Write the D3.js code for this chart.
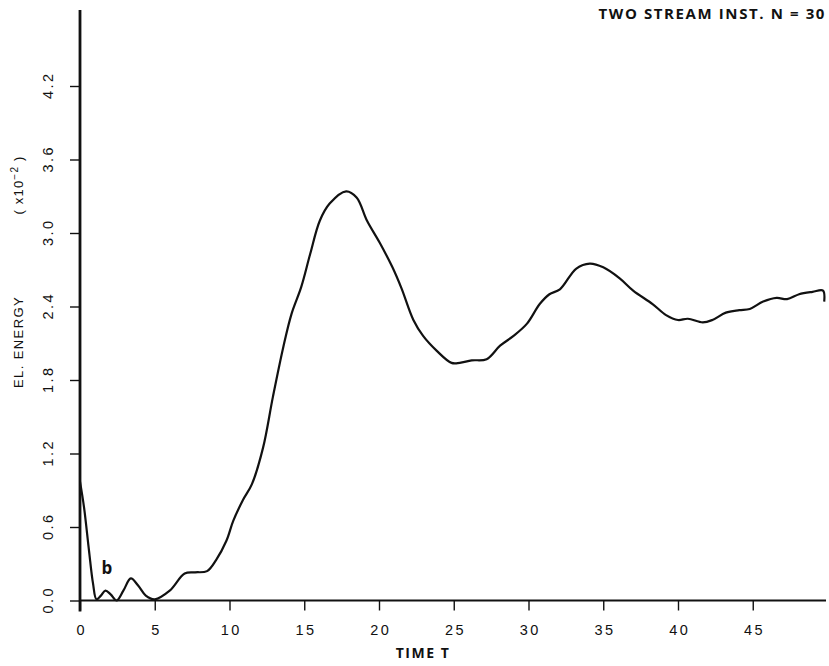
<!DOCTYPE html>
<html>
<head>
<meta charset="utf-8">
<script src="https://cdn.jsdelivr.net/npm/d3@7"></script>
<style>
  body { margin: 0; background: #fff; }
  svg { display: block; }
  text { fill: #111; }
</style>
</head>
<body>
<svg id="chart" width="829" height="666"></svg>
<script>
// time samples and electric field energy (x10^-2)
var times = [0, 0.27, 0.6, 0.87, 1.1, 1.4, 1.7, 2.05, 2.45, 2.9, 3.4, 3.9, 4.4, 5.0,
  6.0, 7.0, 7.7, 8.5, 9.1, 9.8, 10.25, 10.9, 11.5, 12.25, 12.9, 13.6, 14.15, 14.8,
  15.4, 16.04, 16.7, 17.8, 18.5, 19.2, 20.05, 20.9, 21.5, 22.3, 22.95, 23.85, 24.85,
  25.4, 26.2, 27.2, 28.1, 29.0, 29.9, 30.75, 31.4, 32.1, 33.2, 34.1, 35.0, 36.1,
  37.0, 38.3, 39.2, 40.0, 40.66, 41.66, 42.3, 43.2, 44.1, 44.8, 45.7, 46.6, 47.3,
  48.1, 49.0, 49.7, 49.78];
var energy = [0.97, 0.76, 0.41, 0.14, 0.01, 0.04, 0.08, 0.05, 0.0, 0.08, 0.18, 0.12,
  0.04, 0.01, 0.08, 0.22, 0.23, 0.24, 0.33, 0.49, 0.65, 0.82, 0.95, 1.25, 1.66,
  2.07, 2.34, 2.56, 2.83, 3.10, 3.24, 3.34, 3.29, 3.10, 2.92, 2.72, 2.55, 2.29,
  2.16, 2.04, 1.94, 1.94, 1.96, 1.97, 2.08, 2.16, 2.26, 2.42, 2.50, 2.54, 2.71,
  2.75, 2.72, 2.63, 2.53, 2.42, 2.33, 2.29, 2.30, 2.27, 2.29, 2.35, 2.37, 2.38,
  2.44, 2.47, 2.46, 2.50, 2.52, 2.53, 2.44];
var xTicks = [0, 5, 10, 15, 20, 25, 30, 35, 40, 45];
var yTicks = [0.0, 0.6, 1.2, 1.8, 2.4, 3.0, 3.6, 4.2];

var svg = d3.select('#chart');
var font = '"Liberation Sans", Arial, sans-serif';
var boldFont = '"Open Sans", sans-serif';

var x = d3.scaleLinear().domain([0, 50]).range([80, 827.5]);
var y = d3.scaleLinear().domain([0, 4.2]).range([600.5, 86]);

// axis lines
svg.append('line')
  .attr('x1', x(0)).attr('x2', x(49.9))
  .attr('y1', y(0)).attr('y2', y(0))
  .attr('stroke', '#111').attr('stroke-width', 2.2);
svg.append('line')
  .attr('x1', x(0)).attr('x2', x(0))
  .attr('y1', y(0) + 11).attr('y2', y(4.82))
  .attr('stroke', '#111').attr('stroke-width', 2.8);

var xAxis = svg.append('g')
  .attr('transform', 'translate(0,' + y(0) + ')')
  .call(d3.axisBottom(x).tickValues(xTicks).tickSize(10).tickPadding(14)
    .tickFormat(d3.format('d')));
xAxis.select('.domain').remove();
xAxis.selectAll('line').attr('stroke', '#111').attr('stroke-width', 1.4);
xAxis.selectAll('text')
  .attr('dx', '1.2px')
  .style('font-family', font).style('font-size', '14.5px').style('letter-spacing', '2.4px')
  .attr('fill', '#111');

var yAxis = svg.append('g')
  .attr('transform', 'translate(' + x(0) + ',0)')
  .call(d3.axisLeft(y).tickValues(yTicks).tickSize(10).tickFormat(d3.format('.1f')));
yAxis.select('.domain').remove();
yAxis.selectAll('line').attr('stroke', '#111').attr('stroke-width', 1.4);
yAxis.selectAll('text')
  .attr('x', null).attr('dy', null)
  .attr('text-anchor', 'middle')
  .attr('transform', 'translate(-32,0) rotate(-90) translate(1.2,5)')
  .style('font-family', font).style('font-size', '14.5px').style('letter-spacing', '2.4px')
  .attr('fill', '#111');

// curve
var pts = times.map(function(t, i) { return [t, energy[i]]; });
var line = d3.line()
  .x(function(d) { return x(d[0]); })
  .y(function(d) { return y(d[1]); })
  .curve(d3.curveCatmullRom.alpha(0.5));
svg.append('path')
  .datum(pts)
  .attr('d', line)
  .attr('fill', 'none')
  .attr('stroke', '#111')
  .attr('stroke-width', 2.2)
  .attr('stroke-linejoin', 'round');

// texts
svg.append('text')
  .attr('x', 826).attr('y', 19)
  .attr('text-anchor', 'end')
  .style('font-family', boldFont).style('font-weight', 'bold')
  .style('font-size', '15px').style('letter-spacing', '1.6px')
  .text('TWO STREAM INST. N = 30');

svg.append('text')
  .attr('transform', 'translate(23,342) rotate(-90)')
  .attr('text-anchor', 'middle')
  .style('font-family', font).style('font-size', '13px').style('letter-spacing', '1.4px')
  .text('EL. ENERGY');

var mult = svg.append('text')
  .attr('transform', 'translate(23,185) rotate(-90)')
  .attr('text-anchor', 'middle')
  .style('font-family', font).style('font-size', '13px').style('letter-spacing', '1.2px');
mult.append('tspan').text('( x10');
mult.append('tspan').attr('dy', -5).style('font-size', '10px').text('−2');
mult.append('tspan').attr('dy', 5).text(' )');

svg.append('text')
  .attr('x', 423).attr('y', 658)
  .attr('text-anchor', 'middle')
  .style('font-family', boldFont).style('font-weight', 'bold')
  .style('font-size', '14px').style('letter-spacing', '1.5px')
  .text('TIME T');

svg.append('text')
  .attr('x', x(1.8)).attr('y', y(0.22))
  .attr('text-anchor', 'middle')
  .style('font-family', boldFont).style('font-weight', 'bold')
  .style('font-size', '17px')
  .text('b');
</script>
</body>
</html>
